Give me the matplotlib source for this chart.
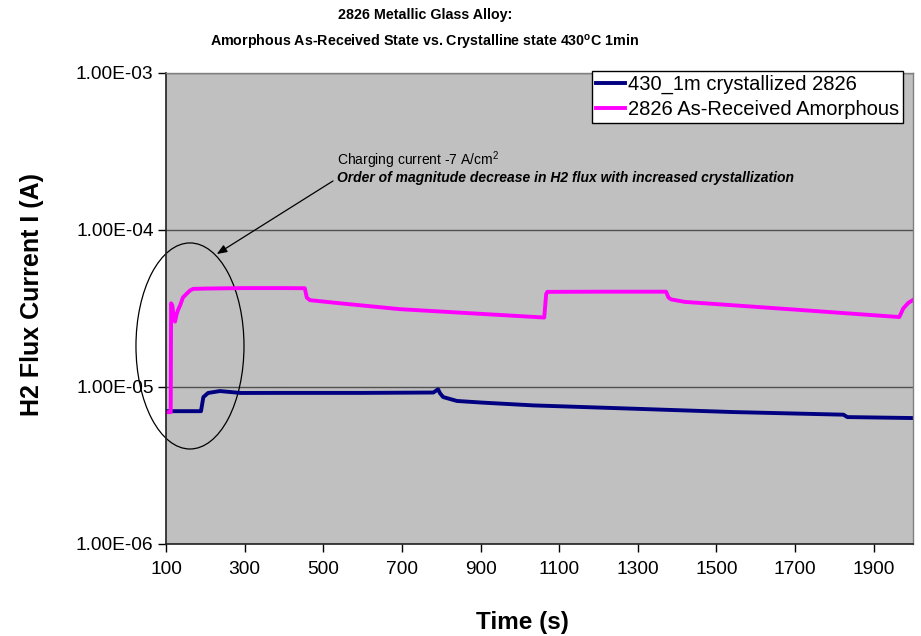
import matplotlib
matplotlib.use("Agg")
import matplotlib.pyplot as plt
from matplotlib.patches import Ellipse
from matplotlib.ticker import FixedLocator, NullLocator

plt.rcParams['font.family'] = ['Liberation Sans', 'DejaVu Sans']
plt.rcParams['mathtext.fontset'] = 'custom'
plt.rcParams['mathtext.rm'] = 'Liberation Sans'
plt.rcParams['mathtext.bf'] = 'Liberation Sans:bold'

# ---- data ----
navy_label = "430_1m crystallized 2826"
navy_t = [100, 189, 195, 207, 237, 290, 400, 600, 780, 792, 797, 805, 840, 907,
          1034, 1288, 1543, 1823, 1833, 2000]
navy_v = [7.0e-6, 7.0e-6, 8.6e-6, 9.14e-6, 9.4e-6, 9.14e-6, 9.15e-6, 9.15e-6,
          9.2e-6, 9.64e-6, 9.1e-6, 8.61e-6, 8.13e-6, 7.93e-6, 7.62e-6, 7.26e-6,
          6.91e-6, 6.65e-6, 6.42e-6, 6.33e-6]

pink_label = "2826 As-Received Amorphous"
pink_t = [100, 108, 112, 113, 116, 120, 123, 127, 131, 136, 143, 152, 161, 169,
          200, 300, 400, 453, 458, 466, 543, 695, 1062, 1067, 1070, 1200, 1372,
          1378, 1385, 1420, 1700, 1965, 1970, 1975, 1988, 2000]
pink_v = [6.9e-6, 6.9e-6, 6.9e-6, 3.4e-5, 3.3e-5, 2.7e-5, 2.6e-5, 2.9e-5, 3.1e-5,
          3.3e-5, 3.7e-5, 3.9e-5, 4.1e-5, 4.2e-5, 4.22e-5, 4.25e-5, 4.25e-5,
          4.24e-5, 3.7e-5, 3.56e-5, 3.4e-5, 3.12e-5, 2.76e-5, 3.9e-5, 4.02e-5,
          4.03e-5, 4.03e-5, 3.7e-5, 3.6e-5, 3.47e-5, 3.1e-5, 2.78e-5, 2.95e-5,
          3.15e-5, 3.42e-5, 3.57e-5]

x_ticks = [100, 300, 500, 700, 900, 1100, 1300, 1500, 1700, 1900]
y_ticks = [1e-6, 1e-5, 1e-4, 1e-3]
y_ticklabels = ["1.00E-06", "1.00E-05", "1.00E-04", "1.00E-03"]

title1 = "2826 Metallic Glass Alloy:"
title2 = r"Amorphous As-Received State vs. Crystalline state 430$^{\mathbf{o}}$C 1min"
note1 = r"Charging current -7 A/cm$^{2}$"
note2 = "Order of magnitude decrease in H2 flux with increased crystallization"

# ---- figure ----
W, H = 921, 636
fig = plt.figure(figsize=(W / 100, H / 100), dpi=100)
fig.patch.set_facecolor('white')
L, R, T, B = 166, 913, 72.5, 544
ax = fig.add_axes([L / W, 1 - B / H, (R - L) / W, (B - T) / H])
ax.set_facecolor('#C0C0C0')

ax.plot(navy_t, navy_v, color='#000080', lw=2.8, label=navy_label, solid_joinstyle='round')
ax.plot(pink_t, pink_v, color='#FF00FF', lw=2.8, label=pink_label, solid_joinstyle='round')

ax.set_yscale('log')
ax.set_ylim(1e-6, 1e-3)
ax.set_xlim(100, 2000)
ax.yaxis.set_major_locator(FixedLocator(y_ticks))
ax.yaxis.set_minor_locator(NullLocator())
ax.set_yticklabels(y_ticklabels)
ax.set_xticks(x_ticks)
ax.tick_params(axis='both', which='major', labelsize=13.8, length=6, width=1,
               color='black', direction='out')
ax.tick_params(axis='x', pad=6)
ax.tick_params(axis='y', pad=3)

ax.grid(axis='y', which='major', color='#505050', lw=1.0)
ax.set_axisbelow(True)
for s in ['left', 'bottom']:
    ax.spines[s].set_color('#202020')
    ax.spines[s].set_linewidth(1.2)
for s in ['top', 'right']:
    ax.spines[s].set_color('#808080')
    ax.spines[s].set_linewidth(1.0)

# titles and axis labels
fig.text(425 / W, 1 - 15 / H, title1, ha='center', va='center', fontsize=10.3, fontweight='bold')
fig.text(425 / W, 1 - 42 / H, title2, ha='center', va='center', fontsize=10.3, fontweight='bold')
fig.text(32 / W, 1 - 295 / H, "H2 Flux Current I (A)", rotation=90, ha='center', va='center',
         fontsize=18, fontweight='bold')
fig.text(522 / W, 1 - 623 / H, "Time (s)", ha='center', va='center', fontsize=17.5,
         fontweight='bold')

# annotation
ax.text(0.229, 0.813, note1, transform=ax.transAxes, fontsize=10, ha='left', va='center')
ax.text(0.229, 0.777, note2, transform=ax.transAxes, fontsize=10, ha='left', va='center',
        fontweight='bold', style='italic')
ax.annotate("", xy=(0.068, 0.615), xycoords='axes fraction',
            xytext=(0.2236, 0.770), textcoords='axes fraction',
            arrowprops=dict(arrowstyle='-|>,head_length=0.5,head_width=0.2', color='black',
                            lw=0.9, mutation_scale=12, shrinkA=0, shrinkB=0))
ell = Ellipse((0.0321, 0.42), 0.1446, 0.437, transform=ax.transAxes, fill=False,
              edgecolor='black', lw=0.9, clip_on=False)
ax.add_patch(ell)

leg = ax.legend(loc='upper right', bbox_to_anchor=(903 / W, 1 - 70.7 / H),
                bbox_transform=fig.transFigure, fontsize=14.5, frameon=True,
                fancybox=False, edgecolor='black', framealpha=1, facecolor='white',
                borderaxespad=0, borderpad=0.2, labelspacing=0.3,
                handlelength=1.45, handletextpad=0.15)
leg.get_frame().set_linewidth(1.0)

fig.savefig('out.png', dpi=100)
